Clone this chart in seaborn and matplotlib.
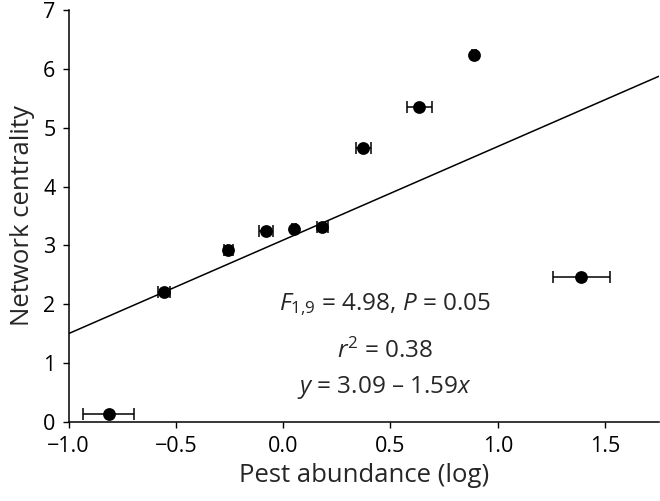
import matplotlib
matplotlib.use("Agg")
import matplotlib.pyplot as plt
import seaborn as sns
import numpy as np
import pandas as pd

# Data
pest_log = [-0.814, -0.556, -0.256, -0.080, 0.049, 0.182, 0.374, 0.635, 0.889, 1.390]
centrality = [0.14, 2.21, 2.92, 3.24, 3.27, 3.31, 4.66, 5.36, 6.24, 2.47]
pest_err = [0.119, 0.028, 0.022, 0.031, 0.010, 0.025, 0.036, 0.058, 0.010, 0.131]

fit_intercept = 3.09
fit_slope = 1.59
line_x = [-1.0, 1.75]

x_ticks = [-1.0, -0.5, 0.0, 0.5, 1.0, 1.5]
y_ticks = [0, 1, 2, 3, 4, 5, 6, 7]

sns.set_style("ticks")
plt.rcParams['font.family'] = ['Open Sans', 'DejaVu Sans']
plt.rcParams['mathtext.fontset'] = 'custom'
plt.rcParams['mathtext.rm'] = 'Open Sans'
plt.rcParams['mathtext.it'] = 'Open Sans:italic'

df = pd.DataFrame({"x": pest_log, "y": centrality, "xerr": pest_err})
line_df = pd.DataFrame({"x": line_x,
                        "y": [fit_intercept + fit_slope * v for v in line_x]})

fig = plt.figure(figsize=(6.6, 5.01), dpi=100)
ax = fig.add_axes([0.104, 0.158, 0.894, 0.822])

sns.lineplot(data=line_df, x="x", y="y", ax=ax, color="black", linewidth=1.1)
ax.errorbar(df["x"], df["y"], xerr=df["xerr"], fmt="none", ecolor="black",
            elinewidth=1.1, capsize=4, capthick=1.1, zorder=3)
sns.scatterplot(data=df, x="x", y="y", ax=ax, color="black", s=85,
                edgecolor="black", linewidth=0, zorder=4)

ax.set_xlim(-1.0, 1.75)
ax.set_ylim(0, 7)
ax.set_xticks(x_ticks)
ax.set_xticklabels([f"{v:.1f}".replace("-", "\u2212") for v in x_ticks])
ax.set_yticks(y_ticks)
ax.tick_params(axis="both", labelsize=15.5, direction="out", length=4.5,
               width=1.0, color="black", labelcolor="black")
ax.tick_params(axis="x", pad=6)
ax.tick_params(axis="y", pad=5)
for s in ["left", "bottom"]:
    ax.spines[s].set_linewidth(1.1)
    ax.spines[s].set_color("black")
sns.despine(ax=ax)

ax.set_xlabel("Pest abundance (log)", fontsize=18.5, labelpad=4)
ax.set_ylabel("Network centrality", fontsize=18.5, labelpad=6)

ax.text(0.474, 2.0, r"$F_{1{,}9}$ = 4.98, $P$ = 0.05", fontsize=17.5,
        ha="center", va="center")
ax.text(0.474, 1.2, r"$r^2$ = 0.38", fontsize=17.5, ha="center", va="center")
ax.text(0.474, 0.58, "$y$ = 3.09 \u2013 1.59$x$",
        fontsize=17.5, ha="center", va="center")

fig.savefig("out.png", dpi=100)
